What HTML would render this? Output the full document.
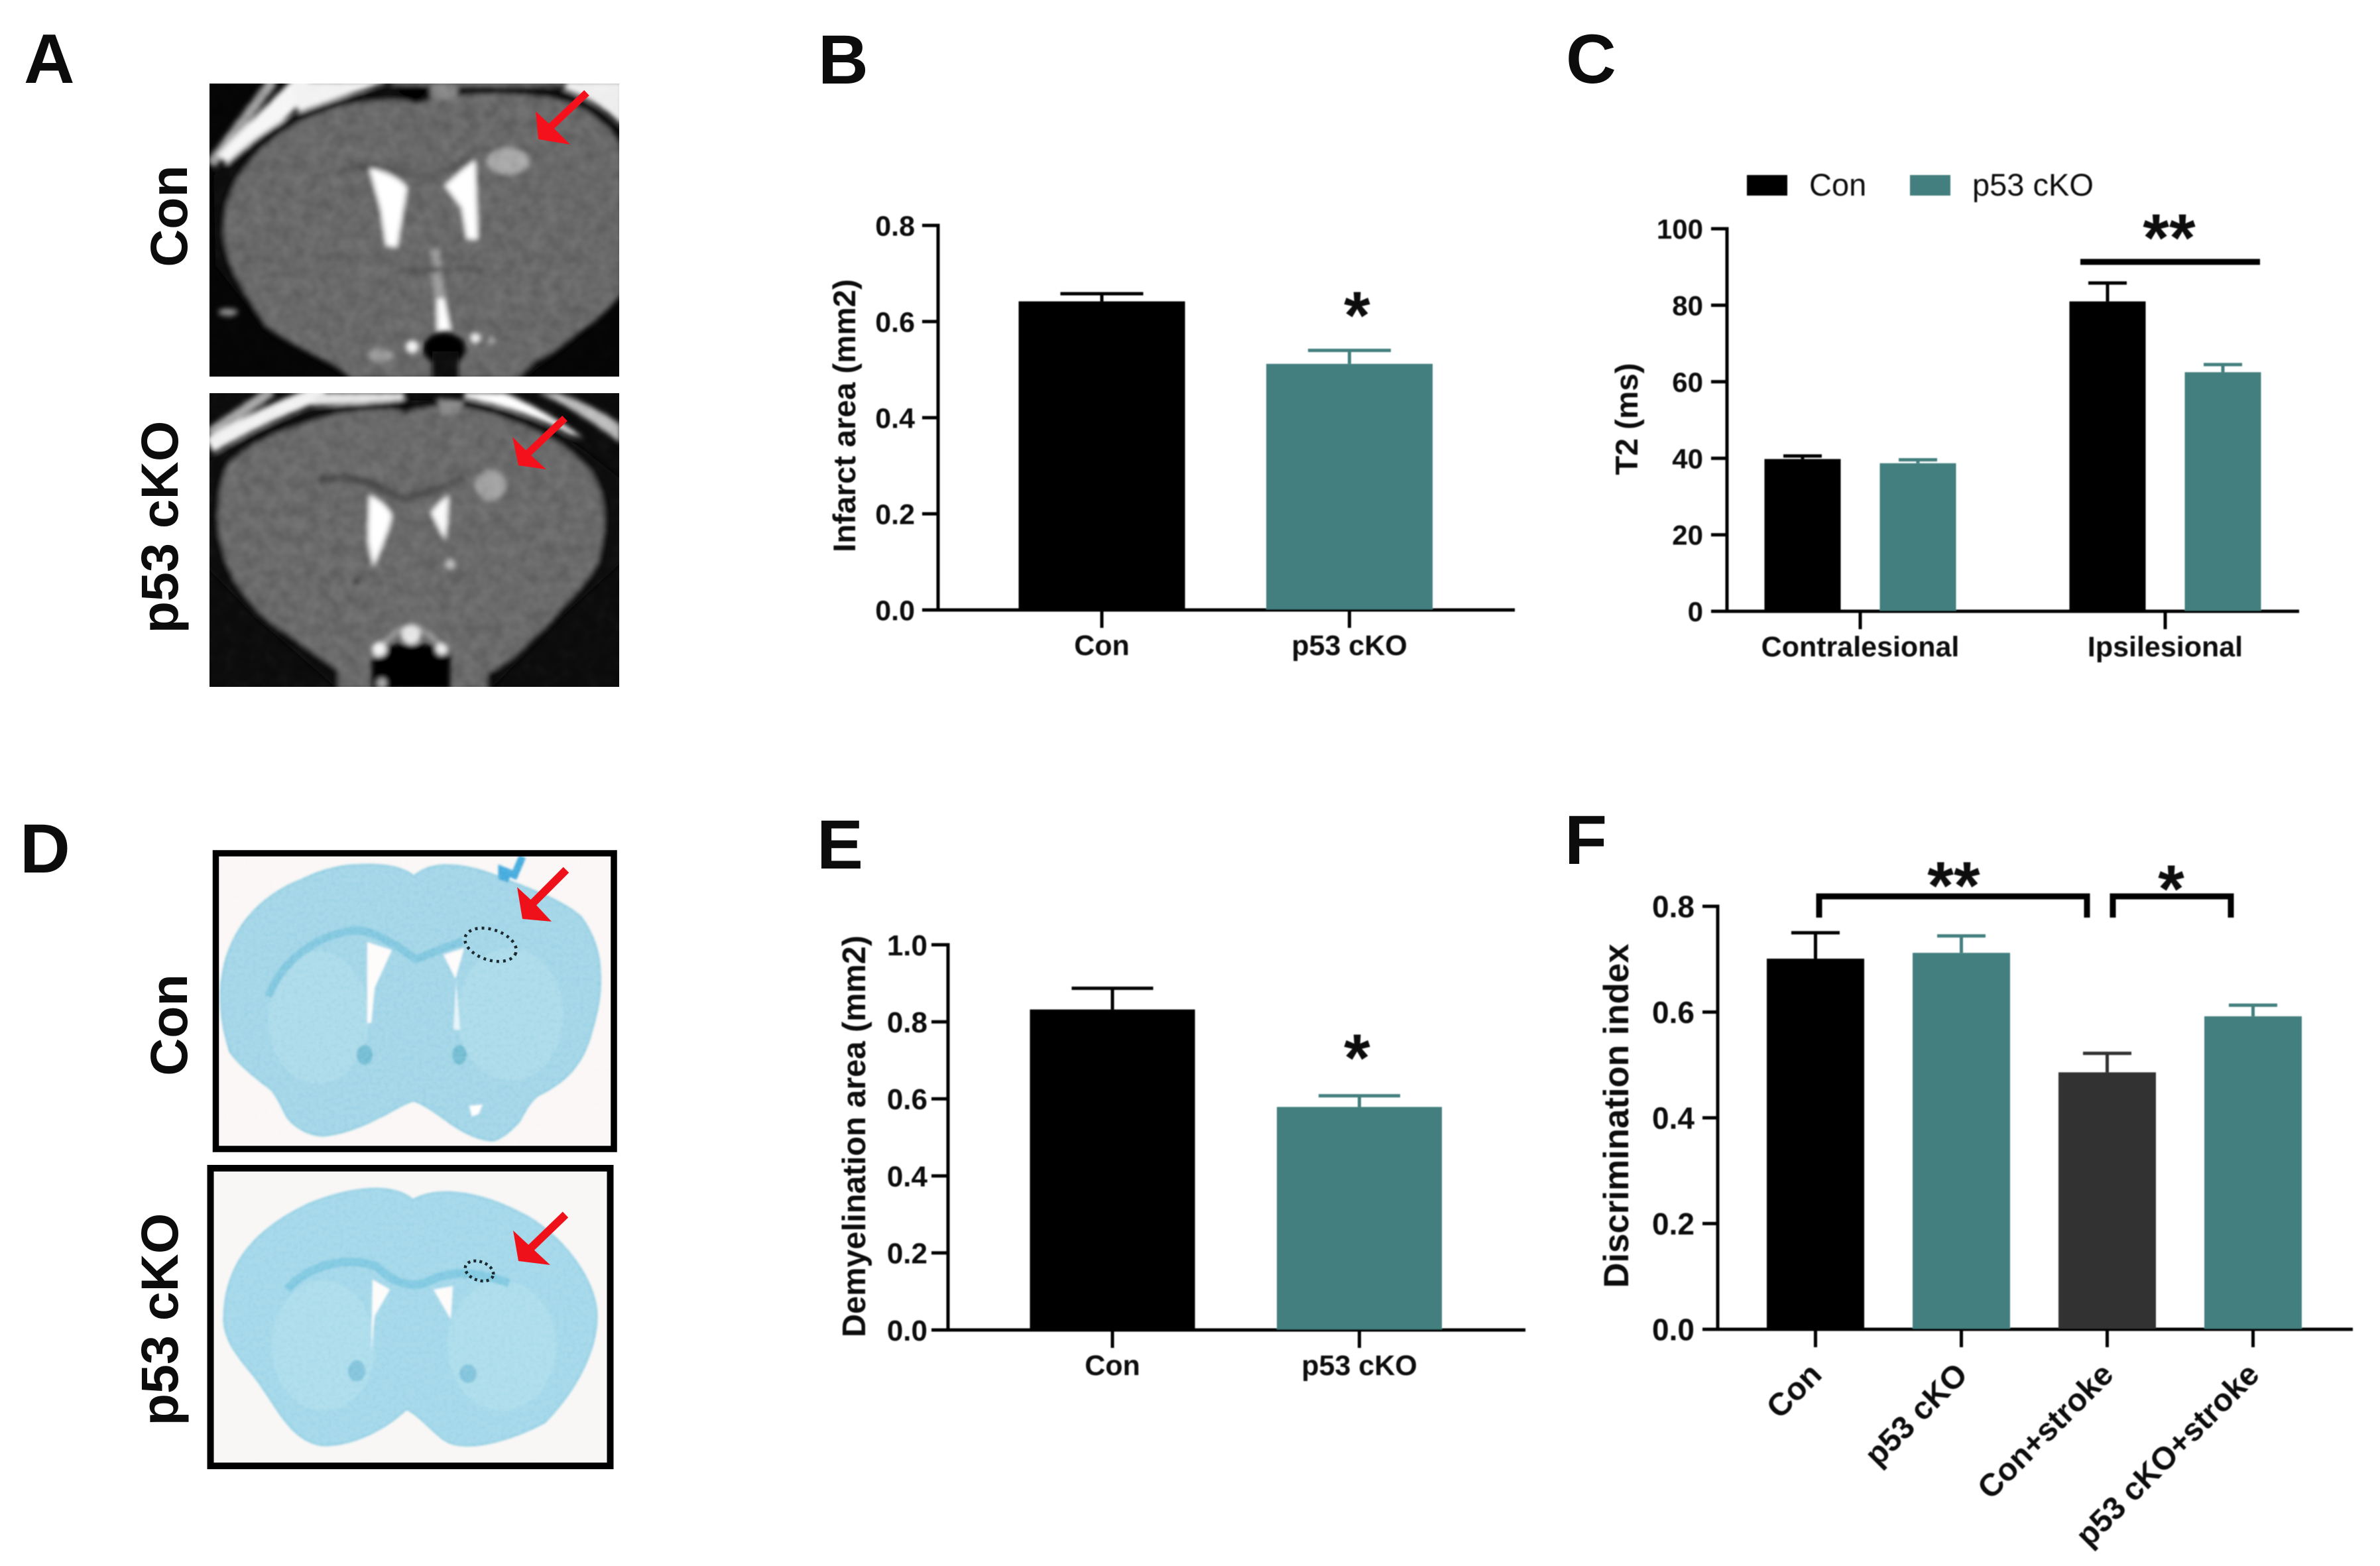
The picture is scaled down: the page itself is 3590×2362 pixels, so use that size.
<!DOCTYPE html>
<html lang="en">
<head>
<meta charset="utf-8">
<title>p53 cKO stroke figure</title>
<style>
html,body{margin:0;padding:0;background:#fff;}
svg{display:block;}
text{font-family:"Liberation Sans",sans-serif;fill:#0c0c0c;}
.b{font-weight:bold;}
</style>
</head>
<body>
<svg id="fig" xmlns="http://www.w3.org/2000/svg" width="3590" height="2362" viewBox="0 0 3590 2362">
<defs>
<filter id="blur4" x="-10%" y="-10%" width="120%" height="120%"><feGaussianBlur stdDeviation="4"/></filter>
<filter id="blur1" x="-10%" y="-10%" width="120%" height="120%"><feGaussianBlur stdDeviation="1.5"/></filter>
<filter id="soft" x="-2%" y="-2%" width="104%" height="104%"><feGaussianBlur stdDeviation="0.9"/></filter>
<filter id="grain" x="0" y="0" width="100%" height="100%" color-interpolation-filters="sRGB"><feTurbulence type="fractalNoise" baseFrequency="0.05" numOctaves="2" seed="7"/><feColorMatrix type="matrix" values="1.6 0 0 0 -0.3  1.6 0 0 0 -0.3  1.6 0 0 0 -0.3  0 0 0 0 1"/></filter>
<filter id="speck" x="0" y="0" width="100%" height="100%" color-interpolation-filters="sRGB"><feTurbulence type="fractalNoise" baseFrequency="0.16" numOctaves="2" seed="11"/><feColorMatrix type="matrix" values="1.4 0 0 0 -0.2  1.4 0 0 0 -0.2  1.4 0 0 0 -0.2  0 0 0 0 1"/></filter>
<clipPath id="clipA1"><rect x="316" y="126" width="618" height="442"/></clipPath>
<clipPath id="clipA2"><rect x="316" y="593" width="618" height="443"/></clipPath>
<clipPath id="clipD1"><rect x="331" y="1292" width="590" height="436"/></clipPath>
<clipPath id="clipD2"><rect x="323" y="1767" width="592" height="439"/></clipPath>
</defs>
<rect width="3590" height="2362" fill="#fff"/>

<text class="b" x="36" y="125" font-size="106">A</text>
<text class="b" x="1234" y="126" font-size="105">B</text>
<text class="b" x="2362" y="125" font-size="105">C</text>
<text class="b" x="30" y="1316" font-size="105">D</text>
<text class="b" x="1232" y="1310" font-size="105">E</text>
<text class="b" x="2360" y="1303" font-size="105">F</text>

<text class="b" transform="translate(282,326) rotate(-90)" text-anchor="middle" font-size="79">Con</text>
<text class="b" transform="translate(268,795) rotate(-90)" text-anchor="middle" font-size="79">p53 cKO</text>
<text class="b" transform="translate(282,1546) rotate(-90)" text-anchor="middle" font-size="79">Con</text>
<text class="b" transform="translate(268,1990) rotate(-90)" text-anchor="middle" font-size="79">p53 cKO</text>

<!-- MRI Con -->
<g clip-path="url(#clipA1)">
  <rect x="316" y="126" width="618" height="442" fill="#050505"/>
  <g filter="url(#blur4)">
    <path d="M318 248 L412 122" stroke="#a0a0a0" stroke-width="16" fill="none"/>
    <path d="M340 245 L465 120" stroke="#f6f6f6" stroke-width="34" fill="none"/>
    <path d="M440 122 L590 122 L540 138 L450 170Z" fill="#f2f2f2"/>
    <path d="M590 122 L850 122 L850 130 L590 130Z" fill="#7c7c7c"/>
    <path d="M855 122 L940 122 L940 190 C915 165 885 145 850 135 Z" fill="#efefef"/>
    <path d="M322 265 C380 210 430 175 469 165 C530 140 590 130 638 132 C700 128 800 128 850 138 C890 152 920 178 940 205 L940 445 L871 510 L790 572 L530 572 L401 498 L325 400Z" fill="#080808"/>
    <path d="M338 343 C338 270 400 205 469 176 C530 150 600 146 630 156 C700 136 800 138 862 156 C895 172 925 195 938 225 L938 440 C915 475 880 495 866 503 C850 520 830 535 807 543 L780 572 L530 572 L511 553 C470 530 430 515 401 490 C370 440 338 400 338 343Z" fill="#696969"/>
    <path d="M590 128 L650 128 L625 158Z" fill="#050505"/>
    <path d="M650 126 L690 126 L690 148 L650 150Z" fill="#858585"/>
    <path d="M505 262 C545 245 580 250 610 262 L650 268 C680 258 700 240 720 225" stroke="#585858" stroke-width="9" fill="none"/>
    <ellipse cx="766" cy="243" rx="32" ry="20" fill="#a8a8a8"/>
    <path d="M557 253 C580 258 605 270 614 283 L599 373 L582 370 L574 316 Z" fill="#fff"/>
    <path d="M717 242 L721 361 L704 360 L696 313 L671 280 C690 262 706 248 717 242Z" fill="#fff"/>
    <path d="M650 376 L664 376 L676 500 L658 500 Z" fill="#9c9c9c"/>
    <path d="M660 450 L670 450 L680 498 L660 500 Z" fill="#fff"/>
    <rect x="600" y="402" width="130" height="9" fill="#595959"/>
  </g>
  <g filter="url(#blur4)">
    <ellipse cx="670" cy="526" rx="32" ry="24" fill="#060606"/>
    <rect x="652" y="530" width="40" height="45" fill="#080808"/>
    <circle cx="622" cy="523" r="10" fill="#f2f2f2"/>
    <circle cx="717" cy="510" r="8" fill="#eee"/>
    <circle cx="742" cy="514" r="6" fill="#aaa"/>
    <ellipse cx="574" cy="536" rx="20" ry="10" fill="#999"/>
    <ellipse cx="344" cy="471" rx="15" ry="6" fill="#888"/>
  </g>
  <rect x="316" y="126" width="618" height="442" filter="url(#grain)" style="mix-blend-mode:soft-light" opacity=".16"/>
</g>

<!-- MRI p53 cKO -->
<g clip-path="url(#clipA2)">
  <rect x="316" y="593" width="618" height="443" fill="#0c0c0c"/>
  <g filter="url(#blur4)">
    <path d="M316 654 L410 590" stroke="#a8a8a8" stroke-width="16" fill="none"/>
    <path d="M316 672 C370 640 430 612 490 590" stroke="#f2f2f2" stroke-width="24" fill="none"/>
    <path d="M480 592 L610 592 L610 606 L470 612Z" fill="#e4e4e4"/>
    <path d="M700 592 L760 592 C810 612 850 640 880 660 L860 655 C820 632 760 612 700 600Z" fill="#fff"/>
    <path d="M810 592 C860 612 905 645 936 668 L936 640 C900 615 865 600 840 592Z" fill="#bdbdbd"/>
    <path d="M316 695 C370 655 440 625 511 612 L600 604 L612 604 L700 604 C770 615 840 650 880 678 L936 722 L936 850 L848 930 L740 1040 L510 1040 L384 930 L316 860Z" fill="#070707"/>
    <path d="M329 781 C330 745 335 715 345 700 C375 670 420 648 511 624 C550 616 600 616 612 622 C640 615 660 612 679 612 C710 616 740 622 763 632 C800 645 830 660 848 672 C870 690 890 705 898 725 C908 745 912 765 911 781 C912 810 905 830 902 848 C885 875 870 895 848 915 C825 945 805 960 784 982 C765 1000 745 1010 735 1015 L735 1040 L510 1040 L511 1012 C490 995 465 980 447 965 C425 950 400 935 384 915 C365 895 350 870 342 848 C335 825 329 805 329 781Z" fill="#6b6b6b"/>
    <circle cx="612" cy="612" r="11" fill="#080808"/>
    <path d="M660 600 L700 604 L690 625 L665 625Z" fill="#8a8a8a"/>
    <path d="M481 724 C510 718 535 722 553 727 C580 738 600 750 612 751 C640 745 680 730 700 721" stroke="#4f4f4f" stroke-width="13" fill="none"/>
    <ellipse cx="740" cy="732" rx="23" ry="23" fill="#a2a2a2"/>
    <path d="M557 747 C575 755 588 768 591 778 C585 805 572 835 563 855 L555 814 Z" fill="#fff"/>
    <path d="M677 747 L675 788 L671 814 L650 774 C658 762 668 752 677 747Z" fill="#fafafa"/>
    <circle cx="679" cy="851" r="7" fill="#bdbdbd"/>
    <circle cx="538" cy="877" r="6" fill="#4a4a4a"/>
  </g>
  <g filter="url(#blur4)">
    <path d="M561 1040 L561 985 C590 965 650 965 679 985 L679 1040Z" fill="#060606"/>
    <path d="M565 990 C585 960 605 945 620 945 C640 945 655 965 675 985" stroke="#9a9a9a" stroke-width="8" fill="none"/>
    <circle cx="572" cy="979" r="11" fill="#f4f4f4"/>
    <circle cx="620" cy="957" r="15" fill="#e6e6e6"/>
    <circle cx="666" cy="979" r="9" fill="#ededed"/>
    <circle cx="576" cy="1030" r="7" fill="#aaa"/>
  </g>
  <rect x="316" y="593" width="618" height="443" filter="url(#grain)" style="mix-blend-mode:soft-light" opacity=".16"/>
</g>

<g>
  <path d="M885 140 L830 192" stroke="#f5111c" stroke-width="11" fill="none"/>
  <path d="M808 168 L812 210 L860 218 L832 190 Z" fill="#f5111c"/>
</g>
<g>
  <path d="M852 631 L793 687" stroke="#f5111c" stroke-width="11" fill="none"/>
  <path d="M773 659 L782 702 L824 708 L798 684 Z" fill="#f5111c"/>
</g>

<!-- Stain Con -->
<g>
  <rect x="326" y="1287" width="600" height="446" fill="#faf7f6"/>
  <g filter="url(#blur1)">
    <path d="M335 1476 C345 1400 395 1350 455 1327 C490 1310 520 1305 537 1305 C570 1303 605 1305 624 1322 C640 1308 660 1305 673 1305 C710 1305 740 1318 764 1327 C810 1345 850 1360 876 1383 C896 1410 905 1440 905 1470 C907 1500 900 1530 893 1553 C885 1585 875 1600 862 1616 C845 1635 825 1645 810 1653 C796 1665 790 1680 782 1693 C770 1705 760 1715 745 1720 C720 1720 695 1705 678 1693 C660 1680 640 1665 624 1660 C605 1665 590 1678 570 1686 C545 1700 515 1710 488 1713 C465 1712 445 1700 434 1686 C425 1670 420 1655 409 1643 C385 1625 360 1605 347 1586 C335 1550 330 1510 335 1476Z" fill="#a5d7e8" stroke="#96d0e3" stroke-width="3"/>
    <ellipse cx="480" cy="1535" rx="76" ry="100" fill="#aedcea"/>
    <ellipse cx="770" cy="1530" rx="80" ry="100" fill="#aedcea"/>
    <path d="M405 1503 C425 1450 475 1410 537 1403 C565 1405 585 1420 599 1427 C615 1438 625 1446 630 1446 C650 1438 680 1425 698 1420" stroke="#85c9e0" stroke-width="12" fill="none"/>
    <path d="M554 1421 L591 1433 L565 1490 L560 1543 L554 1543Z" fill="#fdfcfb"/>
    <path d="M669 1440 L700 1430 L687 1476Z" fill="#fdfcfb"/>
    <path d="M688 1478 L694 1553 L684 1553Z" fill="#e6f4f9"/>
    <ellipse cx="550" cy="1591" rx="12" ry="15" fill="#78bfd4"/>
    <ellipse cx="693" cy="1591" rx="11" ry="15" fill="#78bfd4"/>
    <path d="M788 1292 L776 1320 L757 1312 L757 1322 L768 1326" fill="none" stroke="#4aaedf" stroke-width="11"/>
    <path d="M708 1668 L728 1666 L722 1680 L712 1684Z" fill="#fff"/>
  </g>
  <rect x="326" y="1287" width="600" height="446" clip-path="url(#clipD1)" filter="url(#speck)" style="mix-blend-mode:soft-light" opacity=".14"/>
  <rect x="325.5" y="1287" width="600.5" height="446" fill="none" stroke="#000" stroke-width="9.5"/>
  <ellipse cx="740" cy="1425" rx="40" ry="23" transform="rotate(18 740 1425)" fill="none" stroke="#1a2a30" stroke-width="4.5" stroke-dasharray="4 6"/>
  <path d="M854 1312 L804 1362" stroke="#ef1119" stroke-width="12" fill="none"/>
  <path d="M780 1338 L788 1386 L832 1390 L806 1362 Z" fill="#ef1119"/>
</g>

<!-- Stain p53 cKO -->
<g>
  <rect x="318" y="1762" width="603" height="449" fill="#f9f7f6"/>
  <g filter="url(#blur1)">
    <path d="M338 1990 C338 1900 393 1850 468 1815 C518 1795 588 1780 623 1810 C658 1790 718 1795 786 1830 C846 1860 900 1930 900 1985 C900 2040 866 2100 822 2145 C777 2170 698 2195 668 2170 C648 2155 633 2135 613 2125 C588 2150 538 2180 488 2180 C438 2175 418 2120 383 2075 C358 2045 338 2020 338 1990Z" fill="#a6d9ea" stroke="#98d2e5" stroke-width="3"/>
    <ellipse cx="488" cy="2030" rx="78" ry="98" fill="#afdeec"/>
    <ellipse cx="757" cy="2030" rx="82" ry="98" fill="#afdeec"/>
    <path d="M433 1945 C468 1905 528 1895 568 1910 C593 1935 623 1945 648 1932 C678 1918 708 1915 768 1935" stroke="#85cbe2" stroke-width="13" fill="none"/>
    <path d="M562 1930 L588 1945 L565 1985 L560 2040Z" fill="#fdfcfb"/>
    <path d="M654 1945 L683 1940 L680 1990Z" fill="#fdfcfb"/>
    <ellipse cx="538" cy="2068" rx="13" ry="16" fill="#86c6dd"/>
    <ellipse cx="706" cy="2072" rx="13" ry="14" fill="#86c6dd"/>
  </g>
  <rect x="318" y="1762" width="603" height="449" clip-path="url(#clipD2)" filter="url(#speck)" style="mix-blend-mode:soft-light" opacity=".12"/>
  <rect x="317.5" y="1762" width="603" height="449" fill="none" stroke="#000" stroke-width="10"/>
  <ellipse cx="723" cy="1917" rx="22" ry="14" transform="rotate(20 723 1917)" fill="none" stroke="#1a2a30" stroke-width="4.5" stroke-dasharray="4 5"/>
  <path d="M853 1832 L798 1885" stroke="#ef1119" stroke-width="12" fill="none"/>
  <path d="M774 1856 L782 1902 L830 1908 L802 1882 Z" fill="#ef1119"/>
</g>

<g id="charts" filter="url(#soft)"></g>
</svg>

<script>
// Panel B
var bCategories = ['Con', 'p53 cKO'];
var bValues = [0.642, 0.512];
var bErrors = [0.016, 0.028];
var bTicks = ['0.0', '0.2', '0.4', '0.6', '0.8'];
// Panel C
var cCategories = ['Contralesional', 'Ipsilesional'];
var cSeriesNames = ['Con', 'p53 cKO'];
var cConValues = [39.8, 81];
var cConErrors = [0.8, 4.8];
var cKoValues = [38.7, 62.5];
var cKoErrors = [0.9, 2];
var cTicks = ['0', '20', '40', '60', '80', '100'];
// Panel E
var eCategories = ['Con', 'p53 cKO'];
var eValues = [0.832, 0.579];
var eErrors = [0.055, 0.029];
var eTicks = ['0.0', '0.2', '0.4', '0.6', '0.8', '1.0'];
// Panel F
var fCategories = ['Con', 'p53 cKO', 'Con+stroke', 'p53 cKO+stroke'];
var fValues = [0.701, 0.712, 0.486, 0.592];
var fErrors = [0.049, 0.032, 0.036, 0.021];
var fTicks = ['0.0', '0.2', '0.4', '0.6', '0.8'];

var BLACK = '#000000', TEAL = '#437f7e', DARK = '#333333';
var root = document.getElementById('charts');
var NS = 'http://www.w3.org/2000/svg';

function mk(tag, attrs, parent, txt) {
  var n = document.createElementNS(NS, tag);
  for (var k in attrs) { n.setAttribute(k, attrs[k]); }
  if (txt !== undefined) { n.textContent = txt; }
  parent.appendChild(n);
  return n;
}

function drawAxes(g, p, ticks, yMax) {
  var el;
  var y = function (v) { return p.y0 + (p.yTop - p.y0) * v / yMax; };
  el = mk('line', {x1: p.ax, x2: p.ax, y1: y(yMax) - 2.5, y2: p.y0 + 2.5, stroke: '#000', 'stroke-width': 5}, g);
  
  
  el = mk('line', {x1: p.tickL, x2: p.right, y1: p.y0, y2: p.y0, stroke: '#000', 'stroke-width': 5}, g);
  
  
  ticks.forEach(function (t) {
    var v = parseFloat(t);
    var tk = mk('line', {x1: p.tickL, x2: p.ax, y1: y(v), y2: y(v), stroke: '#000', 'stroke-width': 5}, g);
    
    
    var lb = mk('text', {x: p.labR, y: y(v) + p.fs * 0.36, 'text-anchor': 'end', 'font-size': p.fs, 'font-weight': 'bold'}, g, t);
    
    
  });
  var yt = mk('text', {transform: 'translate(' + p.titleX + ',' + p.titleY + ') rotate(-90)', 'text-anchor': 'middle', 'font-size': p.titleFs, 'font-weight': 'bold'}, g, p.title);
  
  
  return y;
}

function drawBar(g, cx, w, capW, val, err, color, y, p, name) {
  var top = y(val + err);
  var stem = mk('line', {x1: cx, x2: cx, y1: top, y2: y(val), stroke: color, 'stroke-width': 5}, g);
  
  
  var cap = mk('line', {x1: cx - capW / 2, x2: cx + capW / 2, y1: top, y2: top, stroke: color, 'stroke-width': 5}, g);
  
  
  var bar = mk('rect', {x: cx - w / 2, y: y(val), width: w, height: p.y0 - y(val) - 1, fill: color}, g);
  
  
}

function drawXTick(g, x, p, label) {
  var tk = mk('line', {x1: x, x2: x, y1: p.y0, y2: p.y0 + 27, stroke: '#000', 'stroke-width': 5}, g);
  
  
  if (p.rot) {
    var rl = mk('text', {transform: 'translate(' + (x + 12) + ',' + (p.y0 + 71) + ') rotate(-45)', 'text-anchor': 'end', 'font-size': 48, 'font-weight': 'bold'}, g, label);
    
    
  } else {
    var lb = mk('text', {x: x, y: p.y0 + 68, 'text-anchor': 'middle', 'font-size': p.xFs || p.fs, 'font-weight': 'bold'}, g, label);
    
    
  }
}

function drawStar(g, cx, cy, s, size) {
  var st = mk('text', {x: cx, y: cy + size * 0.56, 'text-anchor': 'middle', 'font-size': size, 'font-weight': 'bold'}, g, s);
  
  
}

// Chart B
(function () {
  var g = mk('g', {}, root);
  
  
  var p = {ax: 1415, y0: 920, yTop: 340, tickL: 1391, right: 2285, labR: 1380, fs: 43, title: 'Infarct area (mm2)', titleX: 1290, titleY: 627, titleFs: 47.5};
  var y = drawAxes(g, p, bTicks, 0.8);
  var x = function (i) { return 1662 + 373.5 * i; };
  var colors = [BLACK, TEAL];
  bCategories.forEach(function (c, i) {
    drawBar(g, x(i), 251, 125, bValues[i], bErrors[i], colors[i], y, p, c.replace(/\W+/g, '-').toLowerCase());
    drawXTick(g, x(i), p, c);
  });
  drawStar(g, 2047, 454, '*', 102);
})();

// Chart C
(function () {
  var g = mk('g', {}, root);
  
  
  var p = {ax: 2605, y0: 922, yTop: 345, tickL: 2581, right: 3468, labR: 2569, fs: 42, xFs: 43, title: 'T2 (ms)', titleX: 2470, titleY: 632, titleFs: 47.5};
  var y = drawAxes(g, p, cTicks, 100);
  var x = function (i) { return 2806 + 460 * i; };
  cCategories.forEach(function (c, i) {
    var nm = c.toLowerCase();
    drawBar(g, x(i) - 87, 115, 58, cConValues[i], cConErrors[i], BLACK, y, p, 'con-' + nm);
    drawBar(g, x(i) + 87, 115, 58, cKoValues[i], cKoErrors[i], TEAL, y, p, 'p53-cko-' + nm);
    drawXTick(g, x(i), p, c);
  });
  var sb = mk('line', {x1: 3138, x2: 3409, y1: 395, y2: 395, stroke: '#000', 'stroke-width': 9}, g);
  
  
  drawStar(g, 3272, 337, '**', 102);
  var swatchX = [2635, 2881];
  var labelX = [2729, 2975];
  var colors = [BLACK, TEAL];
  cSeriesNames.forEach(function (s, i) {
    var sw = mk('rect', {x: swatchX[i], y: 264, width: 61, height: 31, fill: colors[i]}, g);
    
    
    var lt = mk('text', {x: labelX[i], y: 295, 'font-size': 47}, g, s);
    
    
  });
})();

// Chart E
(function () {
  var g = mk('g', {}, root);
  
  
  var p = {ax: 1430, y0: 2006, yTop: 1425, tickL: 1405, right: 2301, labR: 1399, fs: 44, xFs: 43, title: 'Demyelination area (mm2)', titleX: 1305, titleY: 1714, titleFs: 48.7};
  var y = drawAxes(g, p, eTicks, 1.0);
  var x = function (i) { return 1678 + 372.5 * i; };
  var colors = [BLACK, TEAL];
  eCategories.forEach(function (c, i) {
    drawBar(g, x(i), 249, 123, eValues[i], eErrors[i], colors[i], y, p, c.replace(/\W+/g, '-').toLowerCase());
    drawXTick(g, x(i), p, c);
  });
  drawStar(g, 2047, 1574, '*', 102);
})();

// Chart F
(function () {
  var g = mk('g', {}, root);
  
  
  var p = {ax: 2591, y0: 2005, yTop: 1367, tickL: 2568, right: 3549, labR: 2556, fs: 46, rot: true, title: 'Discrimination index', titleX: 2456, titleY: 1683, titleFs: 52.8};
  var y = drawAxes(g, p, fTicks, 0.8);
  var x = function (i) { return 2738.5 + 220 * i; };
  var colors = [BLACK, TEAL, DARK, TEAL];
  fCategories.forEach(function (c, i) {
    drawBar(g, x(i), 147, 73, fValues[i], fErrors[i], colors[i], y, p, c.replace(/\W+/g, '-').toLowerCase());
    drawXTick(g, x(i), p, c);
  });
  var br1 = mk('path', {d: 'M2744 1384 V1352 H3148 V1384', fill: 'none', stroke: '#000', 'stroke-width': 9}, g);
  
  
  var br2 = mk('path', {d: 'M3187 1384 V1352 H3365 V1384', fill: 'none', stroke: '#000', 'stroke-width': 9}, g);
  
  
  drawStar(g, 2947, 1314, '**', 102);
  drawStar(g, 3275, 1319, '*', 102);
})();
</script>
</body>
</html>
